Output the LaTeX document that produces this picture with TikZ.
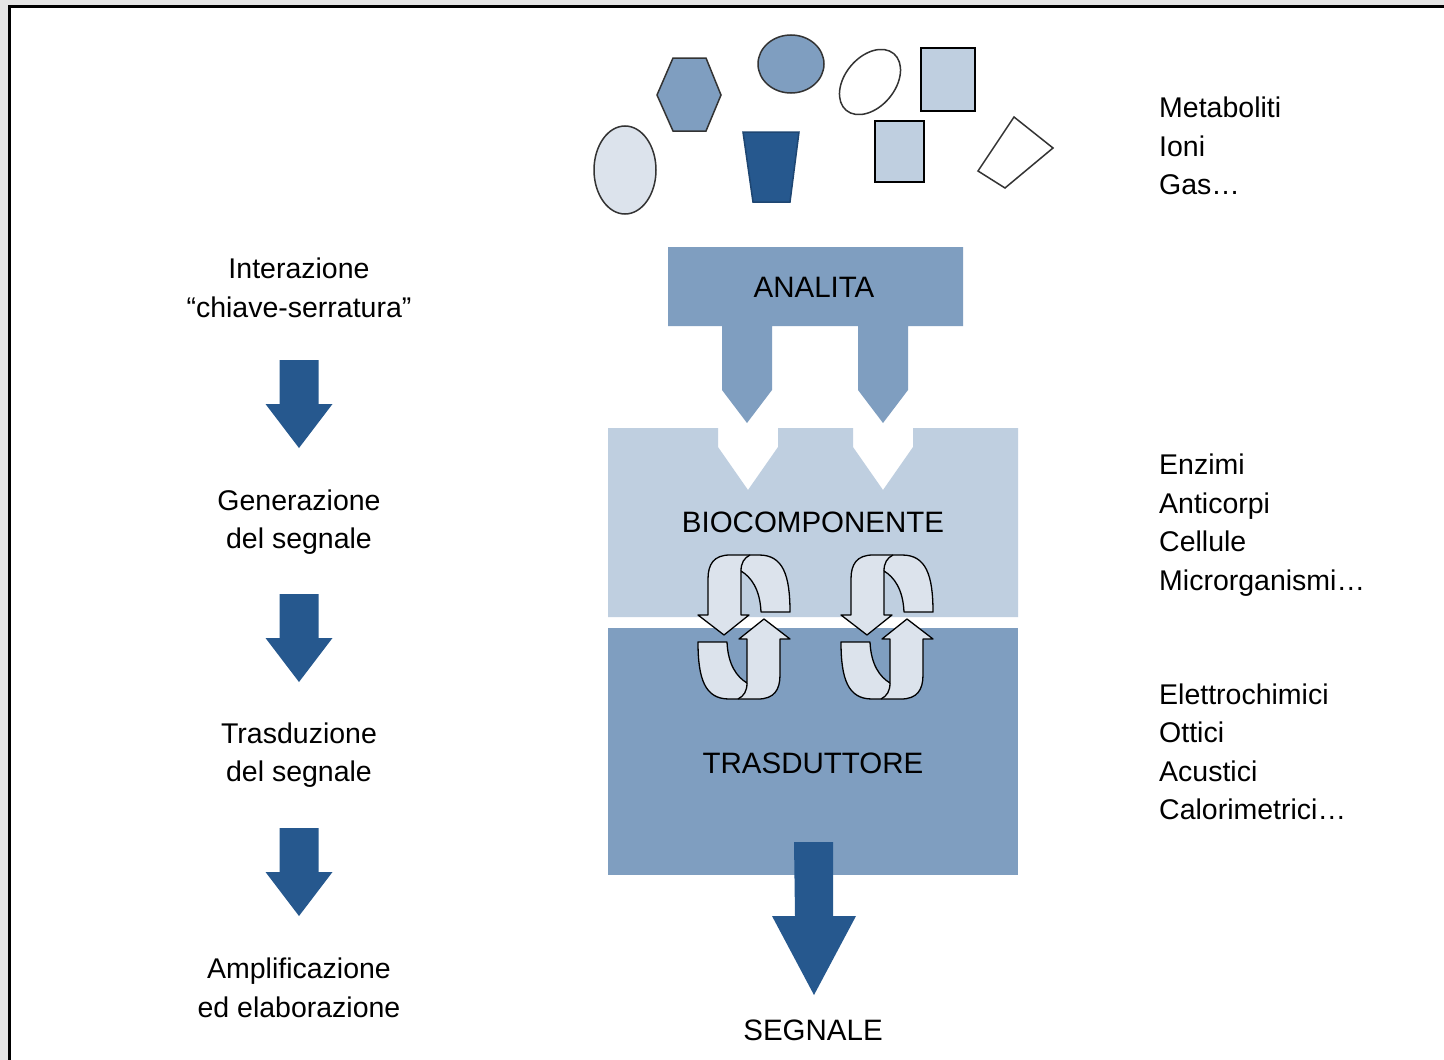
\documentclass[tikz,border=0pt]{standalone}
\usepackage{fontspec}
\setmainfont{Liberation Sans}
\usepackage{xcolor}
\usepackage{tikz}
\usetikzlibrary{calc}
\definecolor{paper}{HTML}{E4E4E4}
\definecolor{pale}{HTML}{DCE3EC}
\definecolor{light}{HTML}{BFCFE0}
\definecolor{mid}{HTML}{7F9EC0}
\definecolor{dark}{HTML}{26588E}
\tikzset{
  lab/.style={font=\fontsize{28.5}{38.5}\selectfont, align=center, inner sep=0pt},
  blocklab/.style={font=\fontsize{29.5}{36}\selectfont, inner sep=0pt},
  side/.style={font=\fontsize{28.5}{38.5}\selectfont, align=left, anchor=west, inner sep=0pt},
  mol/.style={draw=black!80, line width=1.5pt},
  molbox/.style={draw=black, line width=2.8pt, fill=light},
  flowarrow/.pic={
    \fill[dark] (-19.5,0) -- (19.5,0) -- (19.5,44) -- (33.5,44) -- (0,88)
      -- (-33.5,44) -- (-19.5,44) -- cycle;
  },
  cyclearrow/.pic={
    \foreach \r in {0,180}{
      \begin{scope}[rotate=\r]
        \path[fill=pale, draw=black, line width=1.3pt, line join=round]
          (17,-15) -- (46,-15) .. controls (46,-52) and (39,-72) .. (15,-72)
          -- (-14,-72) .. controls (-30,-72) and (-36,-63) .. (-36,-48)
          -- (-36,-12) -- (-46,-12) -- (-20,8) -- (5,-12) -- (-3,-12)
          -- (-3,-56) .. controls (7,-50) and (16,-38) .. (17,-15) -- cycle;
        \draw[line width=1.3pt] (-3,-56) .. controls (-3,-64) and (0,-69) .. (6,-72);
      \end{scope}
    }
  }
}

\begin{document}
\begin{tikzpicture}[x=1pt, y=-1pt]
  \useasboundingbox (0,0) rectangle (1444,1060);
  \fill[paper] (0,0) rectangle (1444,1060);
  \fill[white] (9,6) rectangle (1444,1060);
  \draw[line width=3pt] (9,1060) -- (9,6) -- (1444,6);

  % molecules
  \draw[mol, fill=pale] (625,170) ellipse [x radius=31, y radius=44];
  \draw[mol, fill=mid] (673,58) -- (706,58) -- (721,95) -- (706,131)
    -- (673,131) -- (657,95) -- cycle;
  \draw[mol, fill=mid] (791,64) ellipse [x radius=33, y radius=29];
  \draw[mol, draw=dark!80!black, fill=dark] (743,132) -- (799,132) -- (790,202) -- (753,202) -- cycle;
  \draw[mol, fill=white, rotate around={50:(870,82)}] (870,82) ellipse [x radius=37, y radius=25];
  \draw[molbox] (921,48) rectangle (975,111);
  \draw[molbox] (875,121) rectangle (924,182);
  \draw[mol, fill=white] (1014,117) -- (1053,148) -- (1005,188) -- (978,171) -- cycle;

  % sensor blocks
  \fill[mid] (668,247) -- (963,247) -- (963,326) -- (908,326) -- (908,390)
    -- (883,423) -- (858,390) -- (858,326) -- (772,326) -- (772,390)
    -- (747,423) -- (722,390) -- (722,326) -- (668,326) -- cycle;
  \fill[light] (608,428) -- (718,428) -- (718,447) -- (748,490) -- (778,447)
    -- (778,428) -- (853,428) -- (853,447) -- (883,490) -- (913,447)
    -- (913,428) -- (1018,428) -- (1018,617) -- (608,617) -- cycle;
  \fill[mid] (608,628) rectangle (1018,875);

  \node[blocklab] (analita) at (814,287) {ANALITA};
  \node[blocklab] (bio) at (813,522) {BIOCOMPONENTE};
  \node[blocklab] (trasd) at (813,763) {TRASDUTTORE};
  \node[blocklab] (segnale) at (813,1030) {SEGNALE};

  \pic at (744,627) {cyclearrow};
  \pic at (887,627) {cyclearrow};

  \coordinate (sigtop) at (813.5,842);
  \fill[dark] (sigtop) ++(-19.5,0) -- ++(39,0) -- ++(0,74) -- ++(23,0)
    -- ++(-42,79) -- ++(-42,-79) -- ++(23,0) -- cycle;

  % steps on the left
  \node[lab] (step1) at (299,288) {Interazione\\“chiave-serratura”};
  \node[lab] (step2) at (299,522) {Generazione\\del segnale};
  \node[lab] (step3) at (299,755) {Trasduzione\\del segnale};
  \node[lab] (step4) at (299,988) {Amplificazione\\ed elaborazione};
  \pic at (299,360) {flowarrow};
  \pic at (299,594) {flowarrow};
  \pic at (299,828) {flowarrow};

  % examples on the right
  \node[side] (analiti) at (1159,146) {Metaboliti\\Ioni\\Gas…};
  \node[side] (bioex) at (1159,525) {Enzimi\\Anticorpi\\Cellule\\Microrganismi…};
  \node[side] (trasdex) at (1159,752) {Elettrochimici\\Ottici\\Acustici\\Calorimetrici…};
\end{tikzpicture}
\end{document}
